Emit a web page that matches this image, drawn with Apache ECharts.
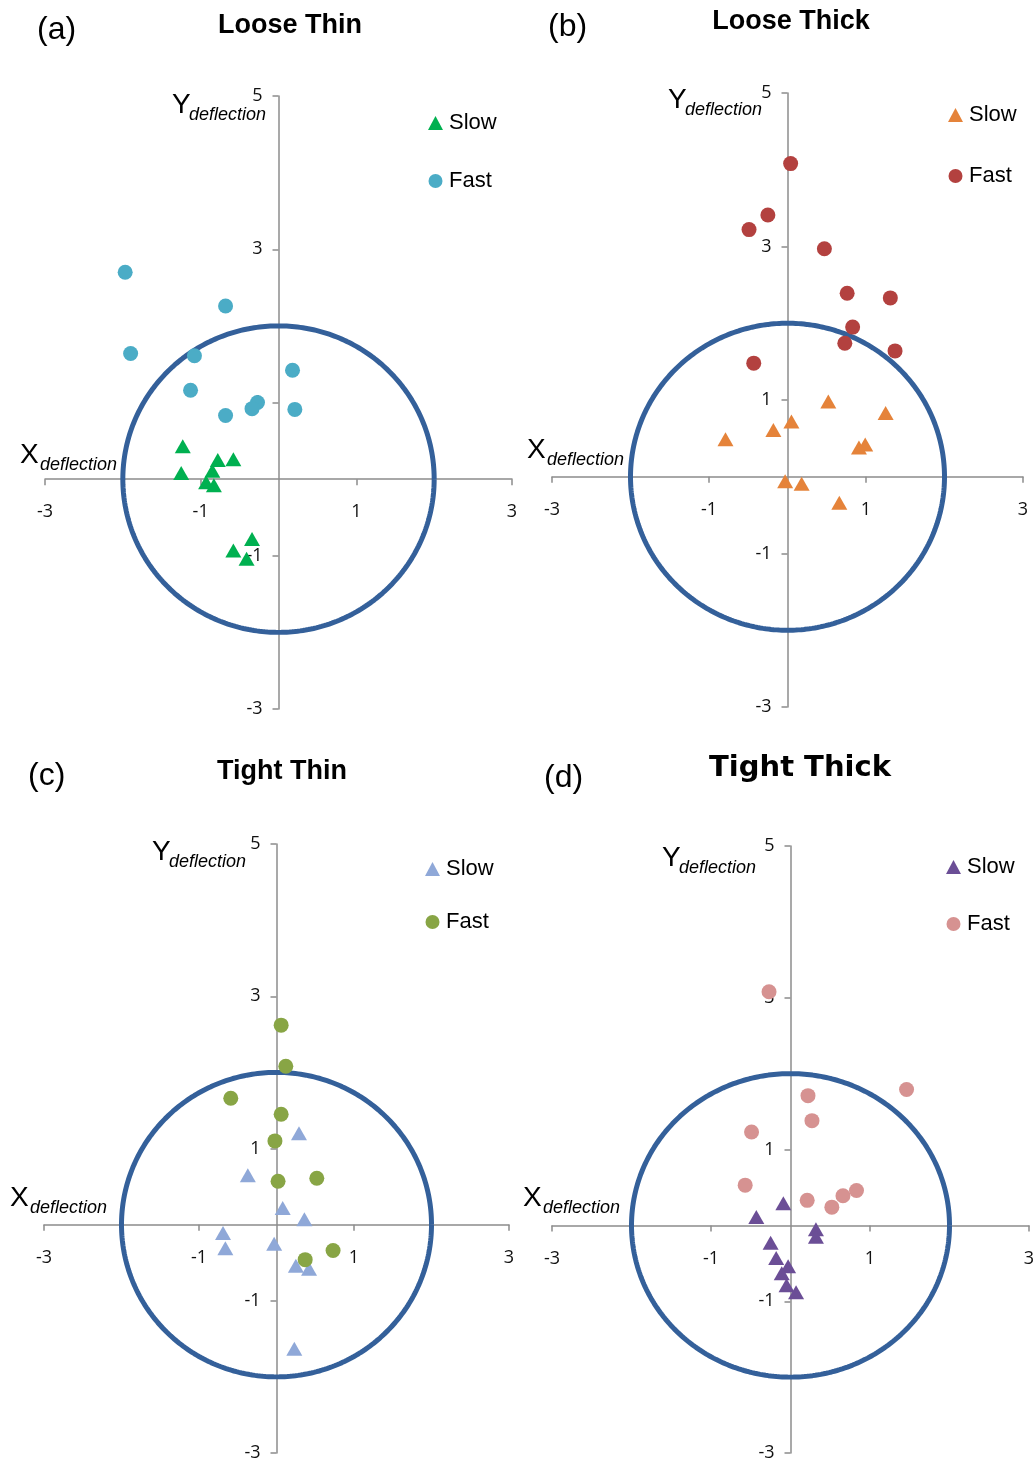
<!DOCTYPE html>
<html>
<head>
<meta charset="utf-8">
<script src="https://cdn.jsdelivr.net/npm/echarts@6/dist/echarts.min.js"></script>
<style>
html,body{margin:0;padding:0;background:#fff;}
#chart{width:1034px;height:1461px;}
</style>
</head>
<body>
<div id="chart"></div>
<script>
// ---------- data (x deflection, y deflection) ----------
const panelTitles = ['Loose Thin', 'Loose Thick', 'Tight Thin', 'Tight Thick'];
const panelLetters = ['(a)', '(b)', '(c)', '(d)'];
const seriesNames = ['Slow', 'Fast'];

const looseThinSlow = [[-1.23,0.43],[-0.78,0.25],[-0.58,0.26],[-1.25,0.08],[-0.85,0.11],[-0.93,-0.04],[-0.83,-0.08],[-0.34,-0.78],[-0.58,-0.93],[-0.41,-1.04]];
const looseThinFast = [[-1.97,2.70],[-0.68,2.26],[-1.90,1.64],[-1.08,1.61],[0.18,1.42],[-1.13,1.16],[-0.27,1.00],[-0.34,0.92],[0.21,0.91],[-0.68,0.83]];
const looseThickSlow = [[0.52,0.98],[1.25,0.83],[0.05,0.72],[-0.18,0.61],[-0.79,0.49],[0.99,0.42],[0.91,0.38],[-0.03,-0.06],[0.18,-0.09],[0.66,-0.34]];
const looseThickFast = [[0.04,4.08],[-0.25,3.41],[-0.49,3.22],[0.47,2.97],[0.76,2.39],[1.31,2.33],[0.83,1.95],[0.73,1.74],[1.37,1.64],[-0.43,1.48]];
const tightThinSlow = [[0.29,1.20],[-0.37,0.65],[0.08,0.22],[0.36,0.07],[-0.69,-0.11],[-0.66,-0.31],[-0.03,-0.25],[0.25,-0.54],[0.42,-0.58],[0.23,-1.63]];
const tightThinFast = [[0.06,2.62],[0.12,2.08],[-0.59,1.66],[0.06,1.45],[-0.02,1.10],[0.02,0.57],[0.52,0.61],[0.73,-0.34],[0.37,-0.46]];
const tightThickSlow = [[-0.09,0.29],[-0.43,0.11],[0.32,-0.05],[0.32,-0.15],[-0.25,-0.23],[-0.18,-0.43],[-0.03,-0.54],[-0.11,-0.63],[-0.05,-0.79],[0.07,-0.88]];
const tightThickFast = [[-0.27,3.08],[1.46,1.79],[0.22,1.71],[0.27,1.38],[-0.49,1.23],[-0.57,0.53],[0.21,0.33],[0.52,0.24],[0.66,0.39],[0.83,0.46]];

// axis ranges / ticks
const xMin = -3, xMax = 3, xStep = 2;
const yMin = -3, yMax = 5, yStep = 2;
// reference circle radius (threshold)
const circleRadius = 2;

// ---------- styling / layout ----------
const slowData = [looseThinSlow, looseThickSlow, tightThinSlow, tightThickSlow];
const fastData = [looseThinFast, looseThickFast, tightThinFast, tightThickFast];
const slowColors = ['#00B050', '#E5833A', '#8FA8D8', '#6B4E96'];
const fastColors = ['#4BACC6', '#B3413F', '#88A545', '#D69291'];
const circleColor = '#34609A';
const axisColor = '#8C8C8C';

const grids = [
  {left: 45,  top: 96,  width: 467, height: 613},
  {left: 552, top: 93,  width: 471, height: 614},
  {left: 44,  top: 844, width: 465, height: 609},
  {left: 552, top: 846, width: 477, height: 607}
];
const legendPos = [
  {left: 428, top: 112, gap: 36},
  {left: 948, top: 104, gap: 39},
  {left: 425, top: 858, gap: 31},
  {left: 946, top: 856, gap: 35}
];
const yTitlePos = [[172,105],[668,100],[152,852],[662,858]];
const xTitlePos = [[20,455],[527,450],[10,1198],[523,1198]];
const titlePos = [[290,26],[791,22],[282,772],[800,768]];
const letterPos = [[37,30],[548,27],[28,776],[544,778]];

// circle outline points built from the radius
const circlePts = [];
for (let i = 0; i <= 360; i++) {
  const t = i * Math.PI / 180;
  circlePts.push([circleRadius * Math.cos(t), circleRadius * Math.sin(t)]);
}

const numFont = '"Open Sans", Lato, sans-serif';
const txtFont = '"Liberation Sans", Arial, sans-serif';

// axes cross at the origin: shift the edge axes inward to the zero position
const xZeroFrac = (0 - xMin) / (xMax - xMin);
const yZeroFrac = (0 - yMin) / (yMax - yMin);

const option = {
  backgroundColor: '#ffffff',
  animation: false,
  textStyle: {fontFamily: numFont},
  grid: grids.map(g => Object.assign({outerBoundsMode: 'none', containLabel: false}, g)),
  xAxis: grids.map((g, i) => ({
    type: 'value', gridIndex: i, min: xMin, max: xMax, interval: xStep,
    position: 'bottom', offset: -g.height * yZeroFrac,
    axisLine: {show: true, onZero: false, lineStyle: {color: axisColor, width: 1.5}},
    axisTick: {show: true, length: 6, lineStyle: {color: axisColor, width: 1.5}},
    splitLine: {show: false},
    axisLabel: {show: true, margin: 24, fontFamily: numFont, fontSize: 18, color: '#111'}
  })),
  yAxis: grids.map((g, i) => ({
    type: 'value', gridIndex: i, min: yMin, max: yMax, interval: yStep,
    position: 'left', offset: -g.width * xZeroFrac,
    axisLine: {show: true, onZero: false, lineStyle: {color: axisColor, width: 1.5}},
    axisTick: {show: true, length: 6, lineStyle: {color: axisColor, width: 1.5}},
    splitLine: {show: false},
    axisLabel: {show: true, margin: 16, fontFamily: numFont, fontSize: 18, color: '#111'}
  })),
  legend: legendPos.map((p, i) => ({
    orient: 'vertical', left: p.left, top: p.top, itemGap: p.gap,
    itemWidth: 15, itemHeight: 14, padding: 0,
    data: [
      {name: panelLetters[i] + seriesNames[0], icon: 'triangle'},
      {name: panelLetters[i] + seriesNames[1], icon: 'circle'}
    ],
    formatter: n => n.slice(3),
    textStyle: {fontFamily: txtFont, fontSize: 22, color: '#000', lineHeight: 22, padding: [0,0,0,1]},
    selectedMode: false
  })),
  series: []
};

for (let i = 0; i < 4; i++) {
  option.series.push({
    type: 'line', xAxisIndex: i, yAxisIndex: i, data: circlePts,
    showSymbol: false, symbol: 'none', silent: true, z: 1,
    lineStyle: {color: circleColor, width: 5}
  });
  option.series.push({
    name: panelLetters[i] + seriesNames[0], type: 'scatter', xAxisIndex: i, yAxisIndex: i,
    data: slowData[i], symbol: 'triangle', symbolSize: [16, 14], z: 3,
    itemStyle: {color: slowColors[i], opacity: 1}
  });
  option.series.push({
    name: panelLetters[i] + seriesNames[1], type: 'scatter', xAxisIndex: i, yAxisIndex: i,
    data: fastData[i], symbol: 'circle', symbolSize: 15, z: 3,
    itemStyle: {color: fastColors[i], opacity: 1}
  });
}

const graphics = [];
for (let i = 0; i < 4; i++) {
  graphics.push({
    type: 'text', x: letterPos[i][0], y: letterPos[i][1],
    style: {text: panelLetters[i], font: '32px ' + txtFont, fill: '#000', textAlign: 'left', textVerticalAlign: 'middle'}
  });
  const tf = i === 3 ? 'bold 29px "DejaVu Sans", sans-serif' : 'bold 27px ' + txtFont;
  graphics.push({
    type: 'text', x: titlePos[i][0], y: titlePos[i][1],
    style: {text: panelTitles[i], font: tf, fill: '#000', textAlign: 'center', textVerticalAlign: 'middle'}
  });
  // Y deflection
  graphics.push({
    type: 'text', x: yTitlePos[i][0], y: yTitlePos[i][1],
    style: {text: 'Y', font: '28px ' + txtFont, fill: '#000', textAlign: 'left', textVerticalAlign: 'middle'}
  });
  graphics.push({
    type: 'text', x: yTitlePos[i][0] + 17, y: yTitlePos[i][1] + 10,
    style: {text: 'deflection', font: 'italic 18px ' + txtFont, fill: '#000', textAlign: 'left', textVerticalAlign: 'middle'}
  });
  // X deflection
  graphics.push({
    type: 'text', x: xTitlePos[i][0], y: xTitlePos[i][1],
    style: {text: 'X', font: '28px ' + txtFont, fill: '#000', textAlign: 'left', textVerticalAlign: 'middle'}
  });
  graphics.push({
    type: 'text', x: xTitlePos[i][0] + 20, y: xTitlePos[i][1] + 10,
    style: {text: 'deflection', font: 'italic 18px ' + txtFont, fill: '#000', textAlign: 'left', textVerticalAlign: 'middle'}
  });
}
option.graphic = {elements: graphics};

const chart = echarts.init(document.getElementById('chart'), null, {renderer: 'canvas'});
chart.setOption(option);
</script>
</body>
</html>
